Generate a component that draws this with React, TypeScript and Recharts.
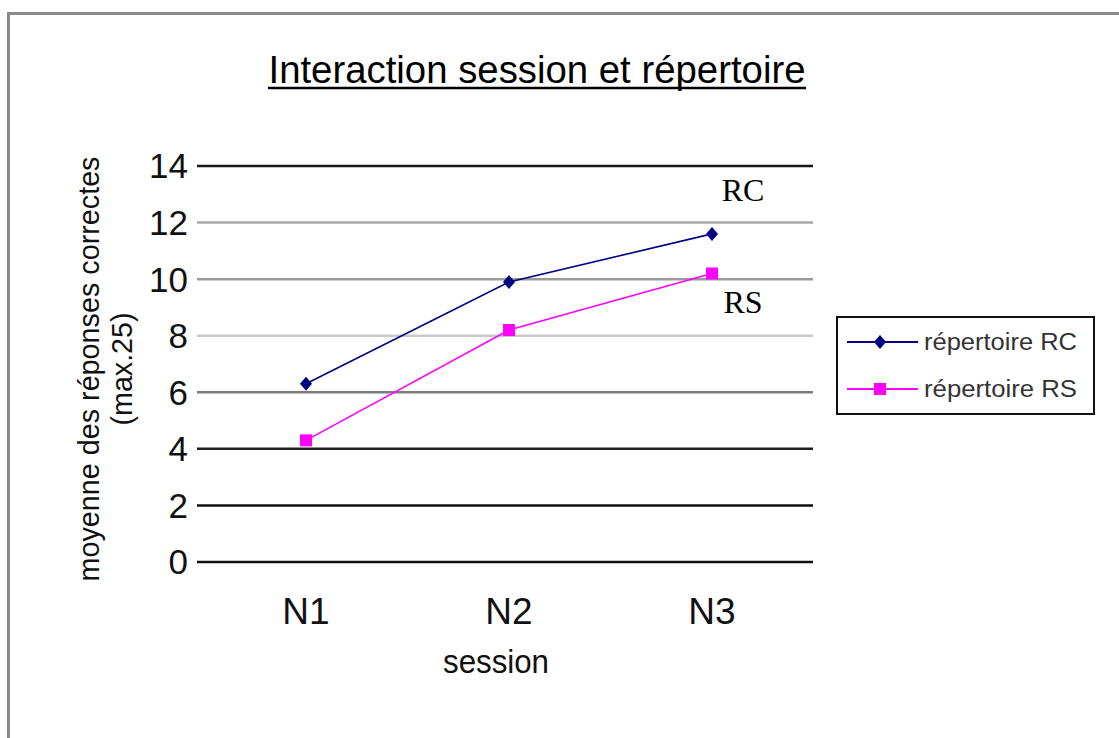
import { CartesianGrid, LabelList, Legend, Line, LineChart, XAxis, YAxis } from "recharts"

// Sessions et moyennes par répertoire
const sessions = ["N1", "N2", "N3"]
const repertoireRC = [6.3, 9.9, 11.6]
const repertoireRS = [4.3, 8.2, 10.2]
const yTicks = [0, 2, 4, 6, 8, 10, 12, 14]

const series = [
    { key: "rc", name: "répertoire RC", tag: "RC", color: "#000080", shape: "diamond" },
    { key: "rs", name: "répertoire RS", tag: "RS", color: "#ff00ff", shape: "square" },
]

const data = sessions.map((s, i) => ({
    session: s,
    rc: repertoireRC[i],
    rs: repertoireRS[i],
}))

// teinte de chaque ligne du quadrillage (valeur -> couleur)
const gridStroke: Record<number, string> = {
    0: "#111",
    2: "#111",
    4: "#1e1e1e",
    6: "#7c7c7c",
    8: "#c9c9c9",
    10: "#9b9b9b",
    12: "#a9a9a9",
    14: "#161616",
}

const FONT = "'Liberation Sans', Arial, sans-serif"
const SERIF = "'Liberation Serif', 'Times New Roman', serif"

const GridLine = (props: any) => {
    const v = yTicks[props.index]
    return (
        <line
            key={props.key}
            x1={props.x1 - 8}
            x2={props.x2}
            y1={props.y1}
            y2={props.y2}
            stroke={gridStroke[v] ?? "#111"}
            strokeWidth={2.5}
        />
    )
}

const Marker = ({ shape, color, cx, cy }: { shape: string; color: string; cx: number; cy: number }) => {
    if (shape === "square") {
        return <rect x={cx - 6} y={cy - 6} width={12} height={12} fill={color} />
    }
    return (
        <polygon
            points={`${cx},${cy - 7} ${cx + 6},${cy} ${cx},${cy + 7} ${cx - 6},${cy}`}
            fill={color}
        />
    )
}

// étiquette RC / RS à côté du dernier point
const endTag = (tag: string, dy: number) => (props: any) => {
    if (props.index !== sessions.length - 1) return null
    return (
        <text
            x={props.x + 31}
            y={props.y + dy}
            textAnchor="middle"
            fontFamily={SERIF}
            fontSize={32}
            fill="#000"
        >
            {tag}
        </text>
    )
}

const LegendBox = () => (
    <svg width={260} height={100}>
        <rect x={1} y={1} width={257} height={97} fill="#fff" stroke="#111" strokeWidth={2} />
        {series.map((s, i) => {
            const y = 26 + i * 47
            return (
                <g key={s.key}>
                    <line x1={11} x2={82} y1={y} y2={y} stroke={s.color} strokeWidth={2} />
                    <Marker shape={s.shape} color={s.color} cx={44} cy={y} />
                    <text
                        x={88}
                        y={y + 8}
                        fontFamily={FONT}
                        fontSize={23}
                        fill="#333"
                        textLength={153}
                        lengthAdjust="spacingAndGlyphs"
                    >
                        {s.name}
                    </text>
                </g>
            )
        })}
    </svg>
)

export default function App() {
    return (
        <div style={{ position: "absolute", left: 0, top: 0, width: 1119, height: 738, background: "#fff", overflow: "hidden" }}>
            {/* cadre gris haut et gauche */}
            <div style={{ position: "absolute", left: 7, top: 12, right: 0, height: 3, background: "#8a8a8a" }} />
            <div style={{ position: "absolute", left: 7, top: 12, bottom: 0, width: 3, background: "#8a8a8a" }} />

            <div style={{ position: "absolute", left: 0, top: 0, width: 1119, height: 738 }}>
                <LineChart
                    width={1119}
                    height={738}
                    data={data}
                    margin={{ top: 166, right: 306, bottom: 146, left: 145 }}
                >
                    <CartesianGrid vertical={false} horizontal={GridLine} />
                    <XAxis
                        dataKey="session"
                        height={30}
                        padding={{ left: 101, right: 101 }}
                        axisLine={false}
                        tickLine={false}
                        tickSize={0}
                        tickMargin={36}
                        tick={{ fill: "#111", fontSize: 37, fontFamily: FONT }}
                    />
                    <YAxis
                        width={60}
                        domain={[0, 14]}
                        ticks={yTicks}
                        interval={0}
                        axisLine={false}
                        tickLine={false}
                        tickSize={0}
                        tickMargin={17}
                        tick={{ fill: "#111", fontSize: 35, fontFamily: FONT }}
                    />
                    <Legend
                        layout="vertical"
                        align="center"
                        verticalAlign="middle"
                        wrapperStyle={{ position: "absolute", left: 836, top: 316, width: 260, height: 100 }}
                        content={() => <LegendBox />}
                    />
                    {series.map((s) => (
                        <Line
                            key={s.key}
                            type="linear"
                            dataKey={s.key}
                            name={s.name}
                            stroke={s.color}
                            strokeWidth={1.6}
                            dot={(p: any) => <Marker key={`${s.key}-${p.index}`} shape={s.shape} color={s.color} cx={p.cx} cy={p.cy} />}
                            activeDot={false}
                            isAnimationActive={false}
                        >
                            <LabelList dataKey={s.key} content={endTag(s.tag, s.key === "rc" ? -33 : 40)} />
                        </Line>
                    ))}
                </LineChart>

                {/* titre et intitulés des axes */}
                <svg width={1119} height={738} style={{ position: "absolute", left: 0, top: 0, pointerEvents: "none" }}>
                    <text
                        x={537}
                        y={83}
                        textAnchor="middle"
                        fontFamily={FONT}
                        fontSize={38}
                        fill="#000"
                        textLength={537}
                        lengthAdjust="spacingAndGlyphs"
                    >
                        Interaction session et répertoire
                    </text>
                    <line x1={268} x2={806} y1={88} y2={88} stroke="#000" strokeWidth={2.5} />
                    <text
                        transform="translate(99,369) rotate(-90)"
                        textAnchor="middle"
                        fontFamily={FONT}
                        fontSize={29}
                        fill="#111"
                        textLength={425}
                        lengthAdjust="spacingAndGlyphs"
                    >
                        moyenne des réponses correctes
                    </text>
                    <text
                        transform="translate(132,369) rotate(-90)"
                        textAnchor="middle"
                        fontFamily={FONT}
                        fontSize={29}
                        fill="#111"
                        textLength={113}
                        lengthAdjust="spacingAndGlyphs"
                    >
                        (max.25)
                    </text>
                    <text
                        x={496}
                        y={673}
                        textAnchor="middle"
                        fontFamily={FONT}
                        fontSize={34}
                        fill="#111"
                        textLength={106}
                        lengthAdjust="spacingAndGlyphs"
                    >
                        session
                    </text>
                </svg>
            </div>
        </div>
    )
}
